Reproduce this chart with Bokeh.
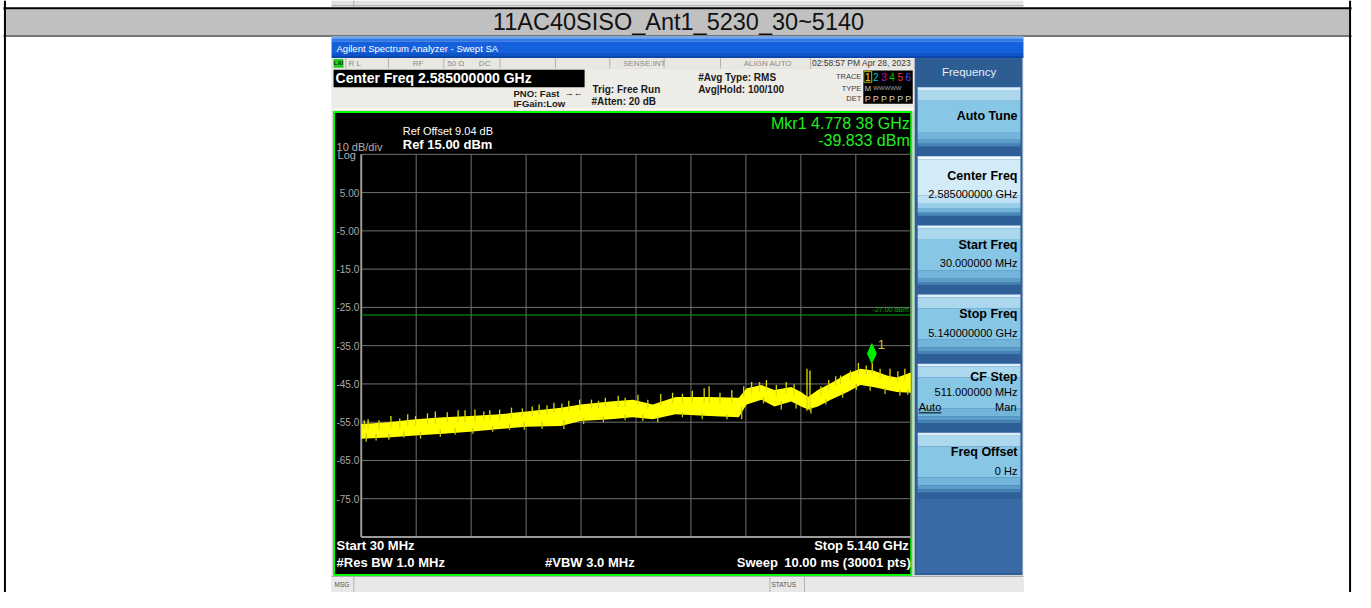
import numpy as np
from bokeh.plotting import figure
from bokeh.models import Range1d
from bokeh.core.properties import value
from bokeh.embed import file_html
from bokeh.resources import INLINE

# ---------------- data ----------------
sheet_title = "11AC40SISO_Ant1_5230_30~5140"
start_mhz = 30.0
stop_mhz = 5140.0
ref_level_dbm = 15.0
db_per_div = 10.0
n_div = 10
limit_dbm = -27.0
limit_label = "-27.00 dBm"
mkr_freq_mhz = 4778.38
mkr_level_dbm = -39.833
ytick_values = [5.0, -5.0, -15.0, -25.0, -35.0, -45.0, -55.0, -65.0, -75.0]
ytick_labels = ["5.00", "-5.00", "-15.0", "-25.0", "-35.0", "-45.0", "-55.0", "-65.0", "-75.0"]

# trace envelope (noise band upper / lower edge)
trace_freq_mhz = [30, 278, 535, 793, 1041, 1317, 1565, 1886, 2070, 2346, 2557, 2741, 2953,
                  3265, 3541, 3614, 3752, 3872, 4028, 4120, 4184, 4276, 4396, 4552, 4671,
                  4791, 4919, 5011, 5140]
trace_upper_dbm = [-55.5, -55.0, -54.2, -53.7, -53.4, -52.9, -52.2, -51.2, -50.4, -49.6, -49.1,
                   -50.4, -48.4, -48.4, -48.6, -46.1, -45.3, -46.6, -45.8, -47.1, -48.4, -46.6,
                   -44.8, -42.3, -41.0, -41.5, -42.8, -43.3, -42.0]
trace_lower_dbm = [-59.3, -59.0, -58.5, -58.0, -57.5, -56.8, -56.2, -56.0, -54.7, -54.2, -53.7,
                   -54.2, -52.9, -53.4, -53.7, -50.4, -49.1, -50.9, -49.6, -50.9, -51.7, -50.9,
                   -49.1, -47.1, -45.3, -45.8, -46.6, -47.1, -47.3]
# noise peaks sticking up out of the band (top level, level inside the band)
up_spike_freq_mhz = [58, 94, 195, 306, 388, 462, 535, 646, 719, 830, 931, 995, 1087, 1170, 1225,
                     1317, 1427, 1528, 1620, 1684, 1758, 1822, 1896, 1960, 2061, 2171, 2236,
                     2300, 2420, 2484, 2603, 2695, 2815, 2925, 3017, 3109, 3219, 3265, 3366,
                     3476, 3587, 3660, 3734, 3798, 3890, 3982, 4055, 4175, 4203, 4304, 4377,
                     4442, 4487, 4579, 4653, 4726, 4782, 4855, 4947, 5020, 5085]
up_spike_top_dbm = [-54.5, -54.2, -54.5, -53.4, -54.0, -52.9, -53.4, -52.7, -52.2, -52.4, -51.9,
                    -51.9, -51.7, -52.2, -51.9, -51.7, -51.2, -51.4, -50.9, -50.4, -50.6, -49.9,
                    -50.1, -49.4, -49.1, -49.1, -49.4, -48.6, -48.1, -48.6, -47.8, -49.1, -47.6,
                    -47.3, -47.6, -46.8, -46.1, -45.6, -47.3, -46.6, -45.6, -44.5, -44.5, -44.0,
                    -45.3, -44.5, -45.1, -41.0, -41.5, -45.6, -44.0, -43.0, -42.8, -41.5, -39.5,
                    -40.2, -39.5, -41.0, -41.0, -41.7, -41.0]
up_spike_base_dbm = [-57, -57, -57, -56.5, -56.5, -56, -56, -55.5, -55.5, -55, -55, -55, -55,
                     -54.5, -54.5, -54.5, -54, -53.5, -53.5, -53, -53, -52.5, -52.5, -52, -52,
                     -51.5, -51.5, -51, -51, -51, -50.5, -51.5, -50.5, -50, -50, -50, -50, -50,
                     -50, -50, -48.5, -47.5, -47, -47, -48, -47.5, -48, -52, -52, -48, -46.5,
                     -45.5, -45, -44, -42.5, -42.5, -42.5, -43.5, -44, -44.5, -44]
# noise dips hanging below the band (bottom level, level inside the band)
dn_spike_freq_mhz = [76, 168, 287, 425, 581, 765, 903, 1069, 1252, 1409, 1546, 1712, 1914, 2098,
                     2282, 2484, 2649, 2787, 3017, 3201, 3431, 3568, 3771, 3936, 4074, 4212,
                     4350, 4506, 4634, 4763, 4901, 5039, 5112]
dn_spike_low_dbm = [-60.1, -59.8, -59.6, -59.0, -59.3, -58.8, -58.3, -58.0, -57.5, -57.0, -57.0,
                    -56.8, -56.8, -55.5, -55.0, -54.5, -54.7, -55.0, -53.7, -54.2, -54.2, -54.2,
                    -50.1, -51.7, -51.4, -52.7, -50.4, -48.6, -46.6, -46.8, -47.6, -48.1, -47.8]
dn_spike_base_dbm = [-58, -58, -58, -57.5, -57.5, -57, -56.5, -56.5, -56, -55.5, -55, -55, -54.5,
                     -54, -53.5, -53, -53, -53.5, -52.5, -52.5, -53, -51, -48.5, -49.5, -50, -51,
                     -49, -47, -45, -45.5, -46, -46.5, -46.5]

softkey_labels = ["Auto Tune", "Center Freq", "Start Freq", "Stop Freq", "CF Step", "Freq Offset"]
softkey_values = ["", "2.585000000 GHz", "30.000000 MHz", "5.140000000 GHz", "511.000000 MHz", "0 Hz"]

# ---------------- layout (reference pixel coordinates) ----------------
W, H = 1355, 592          # figure size in screen px
RW, RH = 1371, 608        # reference picture size; mapped onto the figure
GX0, GX1 = 365, 921       # plot grid left/right (ref px)
GY0, GY1 = 158, 551       # plot grid top/bottom (ref px)
FONT = "Liberation Sans"

px_per_mhz = (GX1 - GX0) / (stop_mhz - start_mhz)
px_per_db = (GY1 - GY0) / (n_div * db_per_div)

p = figure(width=W, height=H, output_backend="svg", toolbar_location=None,
           x_range=Range1d(0, RW), y_range=Range1d(RH, 0),
           min_border=0, x_axis_location=None, y_axis_location=None)
p.grid.visible = False
p.outline_line_color = None
p.background_fill_color = "white"
p.border_fill_color = "white"

p.extra_x_ranges = {"freq": Range1d(start_mhz - GX0 / px_per_mhz,
                                     stop_mhz + (RW - GX1) / px_per_mhz)}
p.extra_y_ranges = {"dbm": Range1d(ref_level_dbm - (RH - GY0) / px_per_db,
                                   ref_level_dbm + GY0 / px_per_db)}


def box(l, r, t, b, fill, line=None, lw=1):
    p.quad(left=[l], right=[r], top=[t], bottom=[b], fill_color=fill,
           line_color=line, line_width=lw)


def seg(x0, y0, x1, y1, color, w=1):
    p.segment(x0=[x0], y0=[y0], x1=[x1], y1=[y1], line_color=color, line_width=w)


def txt(x, y, s, size, color="#000000", align="left", bold=False, xr=None, yr=None,
        xo=0, yo=0, font=FONT):
    kw = {}
    if xr:
        kw["x_range_name"] = xr
    if yr:
        kw["y_range_name"] = yr
    p.text(x=[x], y=[y], text=[s], text_font=value(font), text_font_size=f"{size}px",
           text_color=color, text_align=align, text_baseline="middle",
           text_font_style="bold" if bold else "normal", x_offset=xo, y_offset=yo, **kw)


# ---------------- document table ----------------
box(335, 1035, 6, 0, "#e2e2e2")
seg(357.5, 0, 357.5, 6, "#a8a8a8", 1)
seg(335, 5.5, 1035, 5.5, "#9a9a9a", 1)
box(4, 1366, 36, 9, "#c0c0c0")
seg(3, 8, 1367, 8, "#000000", 2)
seg(3, 36.5, 1367, 36.5, "#000000", 1)
seg(4.5, 0, 4.5, 608, "#000000", 2)
seg(1365.5, 0, 1365.5, 608, "#000000", 2)
txt(686, 22.5, sheet_title, 23.5, "#111111", "center")

# ---------------- analyzer screenshot frame ----------------
box(335, 1035, 608, 37, "#d6d6d6")
for (y0, y1, c) in [(37, 39, "#6aa4f4"), (39, 42, "#2e78ea"), (42, 54, "#1560dc"),
                    (54, 57, "#0f54c6"), (57, 59, "#0a46ac")]:
    box(335, 1035, y1, y0, c)
txt(340, 49, "Agilent Spectrum Analyzer - Swept SA", 9.5, "#ffffff")

# status row
box(335, 925, 70, 59, "#e9e7e1")
for sx in [349, 392, 448, 505, 561, 616, 671, 728, 819]:
    seg(sx + 0.5, 59, sx + 0.5, 70, "#b4b4b4", 1)
box(337, 347, 69, 60, "#22cc22")
txt(342, 64.5, "LXI", 6, "#003300", "center", True)
for (sx, s) in [(352, "R L"), (417, "RF"), (452, "50 \u03a9"), (484, "DC"),
                (630, "SENSE:INT"), (752, "ALIGN AUTO")]:
    txt(sx, 64.5, s, 8, "#8a8a8a")
txt(821, 64.5, "02:58:57 PM Apr 28, 2023", 8.5, "#3a3a3a")

# header area
box(335, 925, 113, 70, "#eeece6")
seg(335, 111.5, 925, 111.5, "#ffffff", 1)
box(337, 591, 89, 71, "#000000")
txt(339, 80, "Center Freq 2.585000000 GHz", 14, "#ffffff", bold=True)
txt(519, 95, "PNO: Fast", 9.5, "#1a1a1a", bold=True)
txt(571, 95, "\u2192\u2190", 9, "#1a1a1a")
txt(519, 106, "IFGain:Low", 9.5, "#1a1a1a", bold=True)
txt(599, 91.5, "Trig: Free Run", 10, "#1a1a1a", bold=True)
txt(598, 104, "#Atten: 20 dB", 10, "#1a1a1a", bold=True)
txt(706, 79, "#Avg Type: RMS", 10, "#1a1a1a", bold=True)
txt(706, 91, "Avg|Hold: 100/100", 10, "#1a1a1a", bold=True)
txt(871, 78, "TRACE", 7.5, "#404040", "right")
txt(871, 90, "TYPE", 7.5, "#404040", "right")
txt(871, 101, "DET", 7.5, "#404040", "right")
box(873, 923, 106, 72, "#000000")
trace_cols = ["#e8e800", "#00c8d0", "#d000d0", "#00c000", "#ff3030", "#5050ff"]
for i, c in enumerate(trace_cols):
    cx = 877.5 + 8.2 * i
    txt(cx, 78.5, str(i + 1), 10, c, "center")
    txt(cx, 101, "P", 9, "#d0d0d0", "center")
box(873.5, 881.5, 84, 73, None, "#b0b000", 1)
txt(877.5, 90, "M", 8, "#c0c0c0", "center")
txt(883, 90, "WWWWW", 6, "#a0a0a0", "left")

# black screen with green frame
box(337, 922, 590, 114, "#000000")
box(337.5, 921.5, 590, 114.5, None, "#00ff00", 2)

txt(407, 134, "Ref Offset 9.04 dB", 11, "#ffffff")
txt(407, 147.5, "Ref 15.00 dBm", 13, "#ffffff", bold=True)
txt(340, 150, "10 dB/div", 11, "#b0b0b0")
txt(341, 159, "Log", 11, "#b0b0b0")
txt(920, 126, "Mkr1 4.778 38 GHz", 16, "#22ee22", "right")
txt(920, 144, "-39.833 dBm", 16, "#22ee22", "right")
txt(340, 560, "Start 30 MHz", 13, "#ffffff", bold=True)
txt(919, 560, "Stop 5.140 GHz", 13, "#ffffff", "right", bold=True)
txt(340, 577, "#Res BW 1.0 MHz", 13, "#ffffff", bold=True)
txt(551, 577, "#VBW 3.0 MHz", 13, "#ffffff", bold=True)
txt(745, 577, "Sweep", 13, "#ffffff", bold=True)
txt(921, 577, "10.00 ms (30001 pts)", 13, "#ffffff", "right", bold=True)

# ---------------- grid (through freq / dBm scales) ----------------
grid_f = [start_mhz + k * (stop_mhz - start_mhz) / n_div for k in range(n_div + 1)]
grid_db = [ref_level_dbm - k * db_per_div for k in range(n_div + 1)]
bottom_db = ref_level_dbm - n_div * db_per_div
p.segment(x0=grid_f[1:], x1=grid_f[1:], y0=[ref_level_dbm] * n_div, y1=[bottom_db] * n_div,
          line_color="#707070", line_width=1, x_range_name="freq", y_range_name="dbm")
p.segment(x0=[start_mhz] * n_div, x1=[stop_mhz] * n_div, y0=grid_db[:-1], y1=grid_db[:-1],
          line_color="#707070", line_width=1, x_range_name="freq", y_range_name="dbm")
p.segment(x0=[start_mhz, start_mhz], x1=[start_mhz, stop_mhz],
          y0=[ref_level_dbm, bottom_db], y1=[bottom_db, bottom_db],
          line_color="#9a9a9a", line_width=2, x_range_name="freq", y_range_name="dbm")
p.text(x=[GX0 - 2] * len(ytick_values), y=ytick_values, text=ytick_labels,
       text_font=value(FONT), text_font_size="10px", text_color="#a8a8a8",
       text_align="right", text_baseline="middle", y_range_name="dbm")

# limit line
p.segment(x0=[start_mhz], x1=[stop_mhz], y0=[limit_dbm], y1=[limit_dbm],
          line_color="#00a800", line_width=1, x_range_name="freq", y_range_name="dbm")
txt(stop_mhz, limit_dbm, limit_label, 7, "#00b800", "right", xr="freq", yr="dbm",
    xo=-2, yo=-6)

# ---------------- trace ----------------
p.varea(x=trace_freq_mhz, y1=trace_lower_dbm, y2=trace_upper_dbm, fill_color="#ffff00",
        x_range_name="freq", y_range_name="dbm")
p.segment(x0=up_spike_freq_mhz, x1=up_spike_freq_mhz, y0=up_spike_base_dbm,
          y1=up_spike_top_dbm, line_color="#dede00", line_width=1.3,
          x_range_name="freq", y_range_name="dbm")
p.segment(x0=dn_spike_freq_mhz, x1=dn_spike_freq_mhz, y0=dn_spike_base_dbm,
          y1=dn_spike_low_dbm, line_color="#c8c800", line_width=1.3,
          x_range_name="freq", y_range_name="dbm")

# marker (diamond drawn just above the marker point)
mk_hw, mk_hh, mk_lift = 4.5 / px_per_mhz, 10.0 / px_per_db, 11.0 / px_per_db
mx, my = mkr_freq_mhz, mkr_level_dbm + mk_lift
p.patch(x=[mx, mx + mk_hw, mx, mx - mk_hw], y=[my + mk_hh, my, my - mk_hh, my],
        fill_color="#00ee00", line_color="#00ee00", x_range_name="freq", y_range_name="dbm")
txt(mkr_freq_mhz, mkr_level_dbm, "1", 13, "#d0d020", "left", xr="freq", yr="dbm",
    xo=6, yo=-20)

# ---------------- soft key panel ----------------
box(925, 1034, 590, 59, "#2f5f98")
box(927, 1033, 88, 60, "#2e5d94")
txt(980, 73.5, "Frequency", 11.5, "#e6eef8", "center")
box(927, 1033, 588, 512, "#3a6aa6")
key_tops = [89, 160, 231, 302, 373, 444]
normal_bands = [(0, 3, "#d9eef9"), (3, 14, "#acd8ee"), (14, 46, "#88c6e5"),
                (46, 54, "#72b4da"), (54, 58, "#5c9cc8"), (58, 61, "#4682b2")]
select_bands = [(0, 3, "#f2fafd"), (3, 40, "#d2ebf7"), (40, 48, "#bfe1f3"),
                (48, 54, "#98cde9"), (54, 58, "#73b2da"), (58, 61, "#4a88b8")]
for i, top in enumerate(key_tops):
    bands = select_bands if i == 1 else normal_bands
    for (a, b, c) in bands:
        box(928, 1032, top + b, top + a, c)
    if i == 0:
        txt(1029, top + 30, softkey_labels[i], 12.5, "#000000", "right", True)
    elif i == 4:
        txt(1029, top + 14, softkey_labels[i], 12.5, "#000000", "right", True)
        txt(1029, top + 29, softkey_values[i], 11, "#000000", "right")
        txt(929, top + 44, "Auto", 11, "#000000", "left")
        seg(929, top + 50.5, 952, top + 50.5, "#000000", 1)
        txt(1028, top + 44, "Man", 11, "#000000", "right")
    else:
        txt(1029, top + 20, softkey_labels[i], 12.5, "#000000", "right", True)
        txt(1029, top + 39, softkey_values[i], 11, "#000000", "right")

# ---------------- bottom message bar ----------------
box(335, 1035, 608, 591, "#e8e8e8")
seg(335, 591.5, 1035, 591.5, "#a8a8a8", 1)
for sx in [357, 778, 813]:
    seg(sx + 0.5, 592, sx + 0.5, 608, "#b0b0b0", 1)
txt(338, 599.5, "MSG", 6.5, "#505050")
txt(780, 599.5, "STATUS", 6.5, "#505050")

open("out.html", "w").write(file_html(p, INLINE))
